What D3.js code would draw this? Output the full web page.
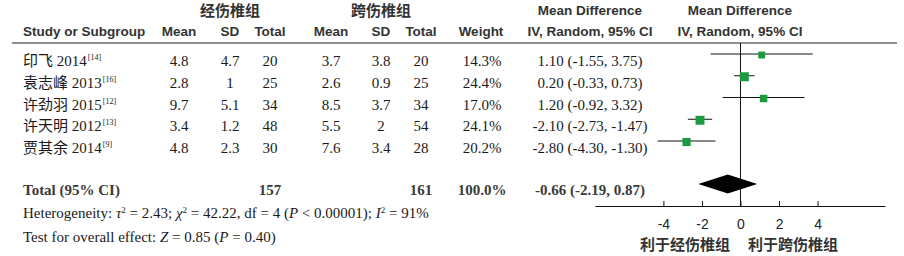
<!doctype html>
<html lang="en">
<head>
<meta charset="utf-8">
<title>Forest plot</title>
<script src="https://cdnjs.cloudflare.com/ajax/libs/d3/7.8.5/d3.min.js"></script>
<style>
  body { margin: 0; background: #fff; }
  .hd { font-family: "Liberation Sans", Arial, sans-serif; font-weight: bold; font-size: 13.5px; fill: #333; }
  .cjk { font-family: "Noto Sans CJK SC", sans-serif; font-weight: bold; font-size: 15px; fill: #333; }
  .dt { font-family: "Liberation Serif", "Noto Sans CJK SC", serif; font-size: 15px; fill: #1a1a1a; }
  .tot { font-weight: bold; fill: #3a3a3a; }
  .tick text { font-family: "Liberation Sans", Arial, sans-serif; font-size: 14px; fill: #222; }
</style>
</head>
<body>
<svg width="904" height="256"></svg>
<script>
// studies
const studies = ["印飞 2014", "袁志峰 2013", "许劲羽 2015", "许天明 2012", "贾其余 2014"];
const refs = ["[14]", "[16]", "[12]", "[13]", "[9]"];
const expMean = [4.8, 2.8, 9.7, 3.4, 4.8];
const expSD = [4.7, 1, 5.1, 1.2, 2.3];
const expN = [20, 25, 34, 48, 30];
const ctlMean = [3.7, 2.6, 8.5, 5.5, 7.6];
const ctlSD = [3.8, 0.9, 3.7, 2, 3.4];
const ctlN = [20, 25, 34, 54, 28];
const weight = [14.3, 24.4, 17.0, 24.1, 20.2];
const md = [1.10, 0.20, 1.20, -2.10, -2.80];
const lo = [-1.55, -0.33, -0.92, -2.73, -4.30];
const hi = [3.75, 0.73, 3.32, -1.47, -1.30];
const total = { n1: 157, n2: 161, w: 100.0, md: -0.66, lo: -2.19, hi: 0.87 };
const ticks = [-4, -2, 0, 2, 4];

const svg = d3.select("svg");
const green = "#1b9a40";

const x = d3.scaleLinear().domain([-7.55, 7.5]).range([595, 885]);
const rowY = d3.scaleLinear().domain([0, 4]).range([61, 148]);   // text rows
const plotY = d3.scaleLinear().domain([0, 4]).range([54, 141]);  // marks sit a little higher
const size = d3.scaleSqrt().domain([0, 24.4]).range([0, 9]);

const fmt2 = v => v.toFixed(2);
const ciText = (m, l, h) => fmt2(m) + " (" + fmt2(l) + ", " + fmt2(h) + ")";

// header
const headers1 = [
  { t: "经伤椎组", x: 230, cls: "cjk" },
  { t: "跨伤椎组", x: 381, cls: "cjk" },
  { t: "Mean Difference", x: 590, cls: "hd" },
  { t: "Mean Difference", x: 740, cls: "hd" }
];
svg.selectAll(".h1").data(headers1).enter().append("text")
  .attr("class", d => d.cls).attr("x", d => d.x).attr("y", d => d.cls == "cjk" ? 16 : 15)
  .attr("text-anchor", "middle").text(d => d.t);

const headers2 = [
  { t: "Study or Subgroup", x: 23, a: "start" },
  { t: "Mean", x: 179 }, { t: "SD", x: 230 }, { t: "Total", x: 270 },
  { t: "Mean", x: 331 }, { t: "SD", x: 381 }, { t: "Total", x: 421 },
  { t: "Weight", x: 481 },
  { t: "IV, Random, 95% CI", x: 590 },
  { t: "IV, Random, 95% CI", x: 740 }
];
svg.selectAll(".h2").data(headers2).enter().append("text")
  .attr("class", "hd").attr("x", d => d.x).attr("y", 36)
  .attr("text-anchor", d => d.a || "middle").text(d => d.t);

svg.append("line").attr("x1", 12).attr("x2", 897).attr("y1", 43).attr("y2", 43)
  .attr("stroke", "#222").attr("stroke-width", 1.2);

// study rows
studies.forEach((s, i) => {
  const y = rowY(i) + 5;
  const name = svg.append("text").attr("class", "dt").attr("x", 23).attr("y", y);
  name.append("tspan").text(s);
  name.append("tspan").attr("dy", -6).attr("font-size", 8).attr("dx", 1).text(refs[i]);
  const cols = [
    [expMean[i], 179], [expSD[i], 230], [expN[i], 270],
    [ctlMean[i], 331], [ctlSD[i], 381], [ctlN[i], 421],
    [weight[i].toFixed(1) + "%", 482],
    [ciText(md[i], lo[i], hi[i]), 590]
  ];
  cols.forEach(c => svg.append("text").attr("class", "dt").attr("x", c[1]).attr("y", y)
    .attr("text-anchor", "middle").text(c[0]));
});

// total row
const ty = 195;
svg.append("text").attr("class", "dt tot").attr("x", 23).attr("y", ty).text("Total (95% CI)");
[[total.n1, 270], [total.n2, 421], [total.w.toFixed(1) + "%", 482],
 [ciText(total.md, total.lo, total.hi), 590]].forEach(c =>
  svg.append("text").attr("class", "dt tot").attr("x", c[1]).attr("y", ty)
    .attr("text-anchor", "middle").text(c[0]));

const het = svg.append("text").attr("class", "dt").attr("x", 23).attr("y", 218);
het.append("tspan").text("Heterogeneity: ");
het.append("tspan").attr("font-style", "italic").text("τ");
het.append("tspan").attr("dy", -5).attr("font-size", 9).text("2");
het.append("tspan").attr("dy", 5).text(" = 2.43; ");
het.append("tspan").attr("font-style", "italic").text("χ");
het.append("tspan").attr("dy", -5).attr("font-size", 9).text("2");
het.append("tspan").attr("dy", 5).text(" = 42.22, df = 4 (");
het.append("tspan").attr("font-style", "italic").text("P");
het.append("tspan").text(" < 0.00001); ");
het.append("tspan").attr("font-style", "italic").text("I");
het.append("tspan").attr("dy", -5).attr("font-size", 9).text("2");
het.append("tspan").attr("dy", 5).text(" = 91%");

const eff = svg.append("text").attr("class", "dt").attr("x", 23).attr("y", 242);
eff.append("tspan").text("Test for overall effect: ");
eff.append("tspan").attr("font-style", "italic").text("Z");
eff.append("tspan").text(" = 0.85 (");
eff.append("tspan").attr("font-style", "italic").text("P");
eff.append("tspan").text(" = 0.40)");

// zero line
svg.append("line").attr("x1", x(0)).attr("x2", x(0)).attr("y1", 43).attr("y2", 206)
  .attr("stroke", "#111").attr("stroke-width", 1);

// CI whiskers and squares
const plot = svg.append("g");
plot.selectAll(".ci").data(md).enter().append("line")
  .attr("x1", (d, i) => x(lo[i])).attr("x2", (d, i) => x(hi[i]))
  .attr("y1", (d, i) => plotY(i)).attr("y2", (d, i) => plotY(i))
  .attr("stroke", "#111").attr("stroke-width", 1);
plot.selectAll(".sq").data(md).enter().append("rect")
  .attr("x", (d, i) => x(d) - size(weight[i]) / 2)
  .attr("y", (d, i) => plotY(i) + 1 - size(weight[i]) / 2)
  .attr("width", (d, i) => size(weight[i]))
  .attr("height", (d, i) => size(weight[i]))
  .attr("fill", green);

// diamond
const dy = 184;
plot.append("path")
  .attr("d", `M${x(total.lo)},${dy} L${x(total.md)},${dy - 9.5} L${x(total.hi)},${dy} L${x(total.md)},${dy + 9.5} Z`)
  .attr("fill", "#000");

// axis
const axis = svg.append("g").attr("transform", "translate(0,206)")
  .call(d3.axisBottom(x).tickValues(ticks).tickSizeInner(-5).tickSizeOuter(0).tickFormat(d => String(d)));
axis.select(".domain").attr("stroke", "#111");
axis.selectAll(".tick line").attr("stroke", "#111");
axis.selectAll(".tick text").attr("y", 23).attr("dy", null);

svg.append("text").attr("class", "cjk").attr("x", 685).attr("y", 250)
  .attr("text-anchor", "middle").text("利于经伤椎组");
svg.append("text").attr("class", "cjk").attr("x", 793).attr("y", 250)
  .attr("text-anchor", "middle").text("利于跨伤椎组");
</script>
</body>
</html>
